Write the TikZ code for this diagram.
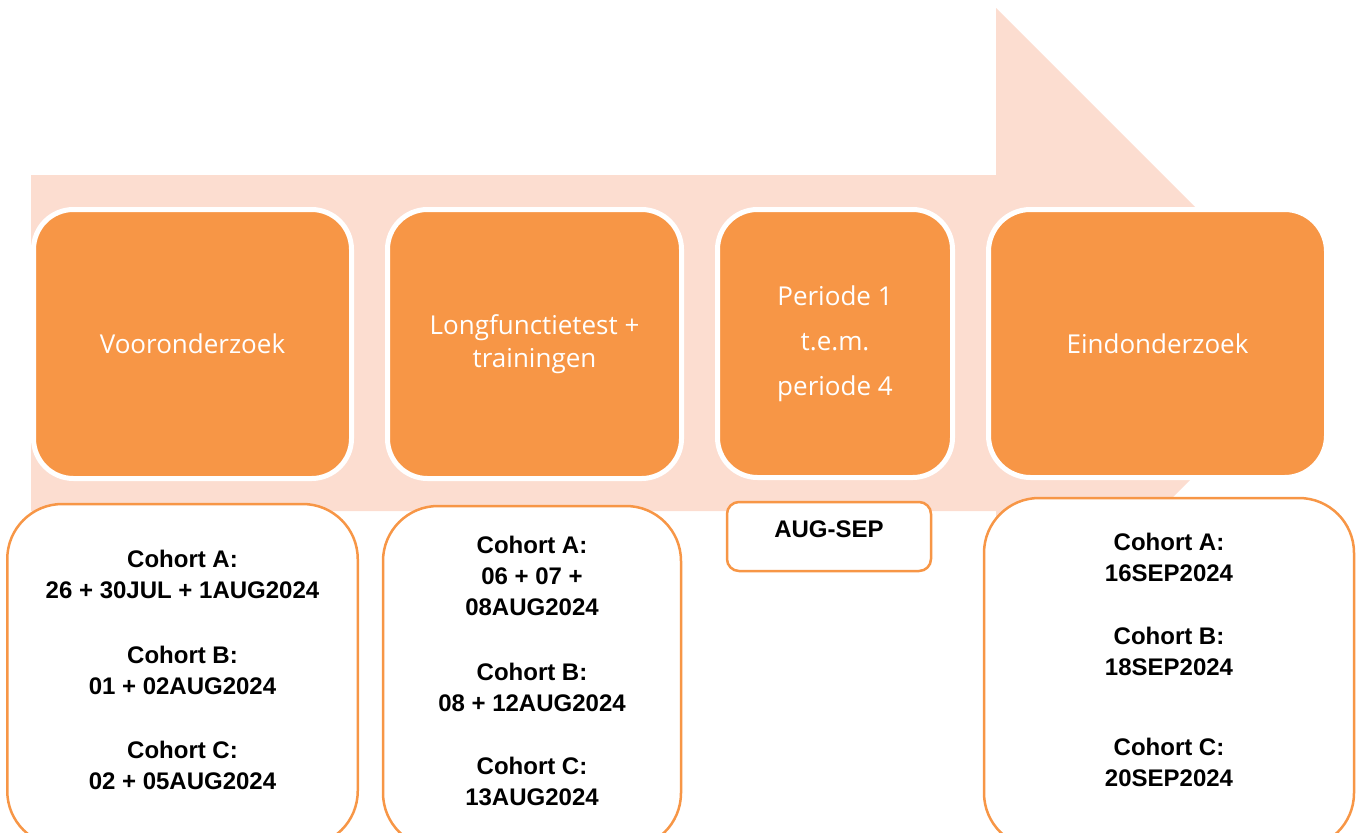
\documentclass[tikz,border=0pt]{standalone}
\usepackage{fontspec}
\setmainfont{Liberation Sans}
\newfontfamily\phasefont{Open Sans}
\definecolor{accent}{HTML}{F79646}
\definecolor{arrowbg}{RGB}{252,221,208}
\newcommand{\px}{0.75pt}

\begin{document}
\begin{tikzpicture}[x=0.75pt, y=-0.75pt,
  phase/.style={fill=accent, draw=white, line width=5*\px, rounded corners=40*\px,
    text=white, align=center, font=\phasefont\fontsize{19.5}{24.75}\selectfont},
  datebox/.style={fill=white, draw=accent, line width=2.5*\px, rounded corners=55*\px},
  datetext/.style={align=center, inner sep=0pt, font=\bfseries\fontsize{18}{23.25}\selectfont}]

  % Rahmen
  \useasboundingbox (0,0) rectangle (1362,832);
  \clip (0,0) rectangle (1362,832);

  % Pfeil im Hintergrund
  \coordinate (tail) at (31,175);
  \coordinate (tip) at (1329,341);
  \fill[arrowbg] (tail) -- (996,175) -- (996,8) -- (tip) -- (996,674) -- (996,511) -- (31,511) -- cycle;

  % Phasen
  \node[phase, minimum width=318*\px, minimum height=269*\px] (voor) at (192.5,344) {Vooronderzoek};
  \node[phase, minimum width=294*\px, minimum height=269*\px] (long) at (534.5,344) {Longfunctietest +\\trainingen};
  \node[phase, minimum width=235*\px, minimum height=268*\px,
    font=\phasefont\fontsize{19.5}{33.75}\selectfont] (peri) at (835,343.5) {Periode 1\\t.e.m.\\periode 4};
  \node[phase, minimum width=338*\px, minimum height=268*\px, rounded corners=42*\px] (eind) at (1157.5,343.5) {Eindonderzoek};

  % Datumblokken
  \node[datebox, minimum width=350.5*\px, minimum height=342*\px] (voordata) at (182.5,675) {};
  \node[datetext, anchor=north] (voortxt) at (182.5,549.5) {Cohort A:\\26 + 30JUL + 1AUG2024\\[25.5pt]Cohort B:\\01 + 02AUG2024\\[24.75pt]Cohort C:\\02 + 05AUG2024};

  \node[datebox, minimum width=298*\px, minimum height=342*\px] (longdata) at (532,677) {};
  \node[datetext, anchor=north] (longtxt) at (532,535.5) {Cohort A:\\06 + 07 +\\08AUG2024\\[25.5pt]Cohort B:\\08 + 12AUG2024\\[24pt]Cohort C:\\13AUG2024};

  \node[datebox, minimum width=204*\px, minimum height=69*\px, rounded corners=12*\px] (peridata) at (829,536.5) {};
  \node[datetext] (peritxt) at (829,529.5) {AUG-SEP};

  \node[datebox, minimum width=370*\px, minimum height=350*\px] (einddata) at (1169,673) {};
  \node[datetext, anchor=north] (eindtxt) at (1169,532.5) {Cohort A:\\16SEP2024\\[24pt]Cohort B:\\18SEP2024\\[36.75pt]Cohort C:\\20SEP2024};

\end{tikzpicture}
\end{document}
